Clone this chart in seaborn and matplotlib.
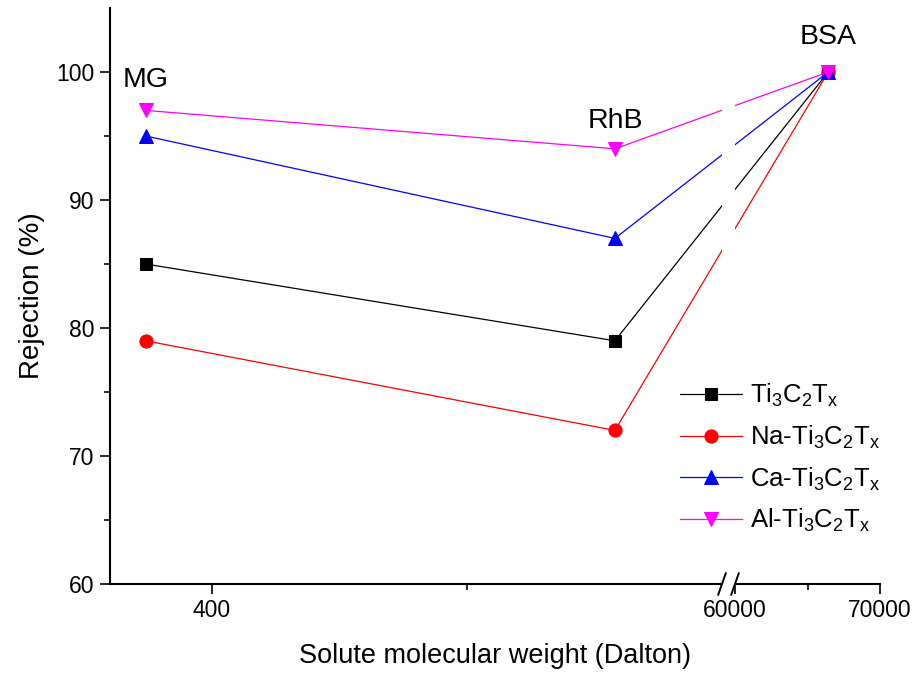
import numpy as np
import pandas as pd
import matplotlib
matplotlib.use('Agg')
import matplotlib.pyplot as plt
import seaborn as sns

# data
solutes = ['MG', 'RhB', 'BSA']
mol_weight = [387, 479, 66430]
ti3c2tx = [85, 79, 100]
na_ti3c2tx = [79, 72, 100]
ca_ti3c2tx = [95, 87, 100]
al_ti3c2tx = [97, 94, 100]

series_labels = [r'Ti$_3$C$_2$T$_x$', r'Na-Ti$_3$C$_2$T$_x$',
                 r'Ca-Ti$_3$C$_2$T$_x$', r'Al-Ti$_3$C$_2$T$_x$']
series_values = [ti3c2tx, na_ti3c2tx, ca_ti3c2tx, al_ti3c2tx]
colors = ['black', '#ff0000', '#0000ff', '#ff00ff']
markers = ['s', 'o', '^', 'v']
msizes = [8, 9.5, 10, 10]
label_offsets = [12.5, 10.5, 15.5]  # points above the top marker

sns.set_style('ticks')
plt.rcParams['font.family'] = ['Liberation Sans', 'DejaVu Sans']
plt.rcParams['mathtext.default'] = 'regular'
for k in ['text.color', 'axes.labelcolor', 'axes.edgecolor', 'xtick.color', 'ytick.color']:
    plt.rcParams[k] = 'black'

# broken x axis: 380-500 | 60000-70000
knots_x = [380, 500, 60000, 70000]
knots_s = [0, 612, 625, 770]

def fwd(x):
    return np.interp(x, knots_x, knots_s)

def inv(s):
    return np.interp(s, knots_s, knots_x)

fig = plt.figure(figsize=(9.17, 6.75), dpi=100)
ax = fig.add_axes([110 / 917, 1 - 584 / 675, 770 / 917, 576 / 675])
ax.set_xscale('function', functions=(fwd, inv))

for lab, vals, c, m, ms in zip(series_labels, series_values, colors, markers, msizes):
    df = pd.DataFrame({'mw': mol_weight, 'rej': vals})
    sns.lineplot(data=df, x='mw', y='rej', ax=ax, color=c, marker=m, ms=ms,
                 mec=c, mfc=c, lw=0.9, label=lab)

ax.set_xlim(380, 70000)
ax.set_ylim(60, 105)
ax.set_xticks([400, 60000, 70000])
ax.set_xticks([450, 65000], minor=True)
ax.set_yticks([60, 70, 80, 90, 100])
ax.set_yticks([65, 75, 85, 95], minor=True)
ax.tick_params(which='major', length=7, width=1.2, labelsize=16.5, pad=4)
ax.tick_params(which='minor', length=4, width=1.2)
sns.despine(ax=ax)
for s in ['left', 'bottom']:
    ax.spines[s].set_linewidth(1.5)

# gap in the lines at the break
ax.axvspan(500, 60000, color='white', zorder=2.2, lw=0)
f1 = fwd(500) / 770
f2 = fwd(60000) / 770
ax.plot([f1 + 0.001, f2 - 0.001], [0, 0], transform=ax.transAxes, color='white',
        lw=3, clip_on=False, zorder=3)
for f in [f1, f2]:
    ax.plot([f - 0.005, f + 0.005], [-0.019, 0.019], transform=ax.transAxes,
            color='black', lw=1.4, clip_on=False, zorder=4)

# solute labels
for name, x, ymax, off in zip(solutes, mol_weight, np.max(series_values, axis=0), label_offsets):
    ax.annotate(name, (x, ymax), xytext=(0, off), textcoords='offset points',
                ha='center', va='bottom', fontsize=20.5)

ax.set_xlabel('Solute molecular weight (Dalton)', fontsize=19.5, labelpad=15)
ax.set_ylabel('Rejection (%)', fontsize=20, labelpad=8)

ax.legend(loc='lower right', bbox_to_anchor=(1.0, 0.086), frameon=False,
          fontsize=18.5, handlelength=2.4, labelspacing=0.57, handletextpad=0.3,
          borderpad=0, borderaxespad=0)

plt.savefig('out.png', dpi=100)
